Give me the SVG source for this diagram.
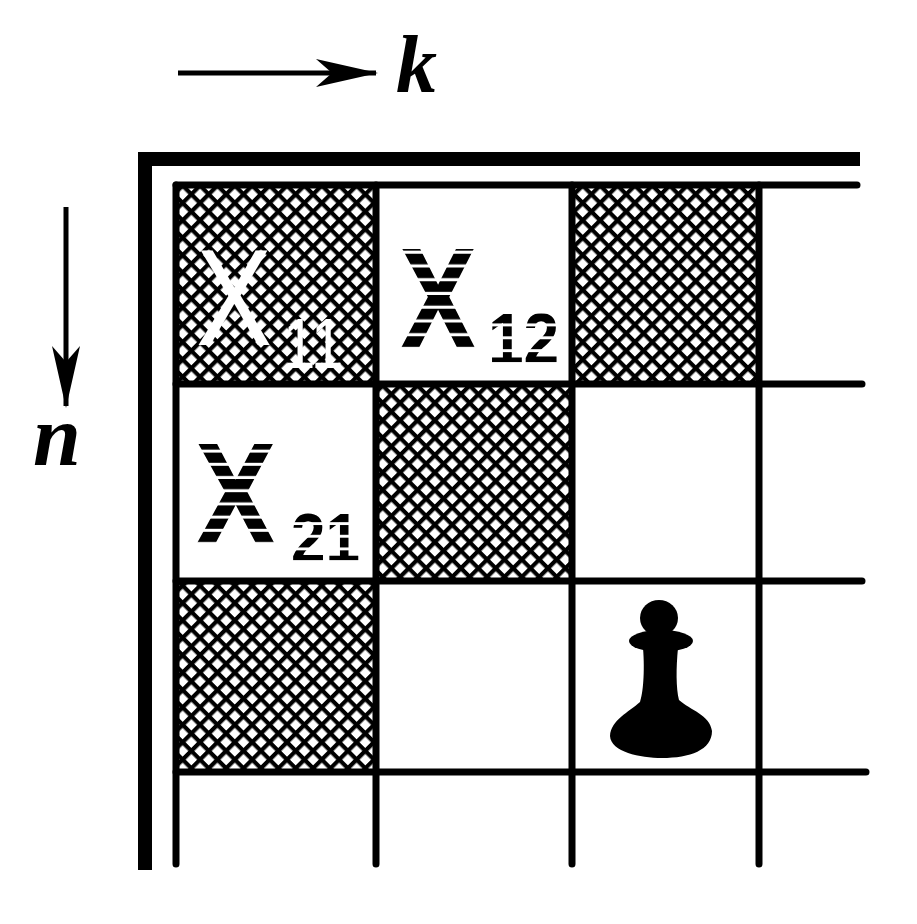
<svg xmlns="http://www.w3.org/2000/svg" width="917" height="924" viewBox="0 0 917 924">
<style>
.grid{stroke:#000;stroke-width:7;stroke-linecap:round;fill:none}
.frame{stroke:#000;stroke-width:14;fill:none}
.hatch{fill:url(#xh)}
.lbl{font-family:"Liberation Sans",Arial,sans-serif;font-weight:bold;fill:url(#st)}
.lblw{font-family:"Liberation Sans",Arial,sans-serif;fill:#fff}
.axis{font-family:"Liberation Serif","Times New Roman",serif;font-style:italic;font-weight:bold;fill:#000}
.arr{stroke:#000;stroke-width:5;fill:none;marker-end:url(#ah)}
</style>
<defs>
<pattern id="xh" patternUnits="userSpaceOnUse" width="12.3" height="12.3" patternTransform="rotate(45)">
<rect width="12.3" height="12.3" fill="#fff"/>
<rect x="0" y="0" width="4.2" height="12.3" fill="#000"/>
<rect x="0" y="0" width="12.3" height="4.2" fill="#000"/>
</pattern>
<pattern id="st" patternUnits="userSpaceOnUse" width="20" height="11">
<rect width="20" height="11" fill="#000"/>
<rect y="8.5" width="20" height="2.5" fill="#fff"/>
</pattern>
<marker id="ah" markerUnits="userSpaceOnUse" viewBox="-62 -15 64 30" markerWidth="64" markerHeight="30" refX="0" refY="0" orient="auto">
<path d="M2,0 L-60,-14 L-44,0 L-60,14 Z" fill="#000"/>
</marker>
</defs>
<rect width="917" height="924" fill="#fff"/>
<g id="cells">
<g id="cell-11"><rect class="hatch" x="176" y="185" width="200" height="199"/>
<text class="lblw" transform="translate(196,345) scale(1,1.2)" font-size="114">X</text>
<text class="lblw" transform="translate(283,368) scale(1,1.2)" font-size="58">11</text></g>
<g id="cell-12">
<text class="lbl" transform="translate(399,350) scale(1,1.25)" font-size="117">X</text>
<text class="lbl" transform="translate(488,365) scale(1,1.17)" font-size="64">12</text></g>
<g id="cell-13"><rect class="hatch" x="572" y="185" width="187" height="199"/></g>
<g id="cell-21">
<text class="lbl" transform="translate(195,545) scale(1,1.2)" font-size="122">X</text>
<text class="lbl" transform="translate(291,563) scale(1,1.15)" font-size="62">21</text></g>
<g id="cell-22"><rect class="hatch" x="376" y="384" width="196" height="197"/></g>
<g id="cell-31"><rect class="hatch" x="176" y="581" width="200" height="191"/></g>
<g id="cell-33">
<ellipse cx="659" cy="618" rx="19" ry="18" fill="#000"/>
<ellipse cx="661" cy="641" rx="32" ry="11" fill="#000"/>
<path d="M643,648 C645,672 643,694 640,702 C629,712 611,720 610,736 C611,752 640,758 662,758 C690,758 712,750 712,731 C710,715 690,710 679,700 C676,688 676,668 678,648 Z" fill="#000"/>
</g>
</g>
<g id="board">
<path class="frame" d="M145,870 L145,159 L860,159"/>
<path class="grid" d="M176,185 L857,185 M176,384 L862,384 M176,581 L862,581 M176,772 L866,772"/>
<path class="grid" d="M176,185 L176,864 M376,185 L376,864 M572,185 L572,864 M759,185 L759,864"/>
</g>
<g id="connectors">
<line class="arr" x1="178" y1="73" x2="376" y2="73"/>
<line class="arr" x1="66" y1="207" x2="66" y2="406"/>
</g>
<g id="axis-labels">
<text class="axis" x="396" y="92" font-size="82">k</text>
<text class="axis" x="33" y="465" font-size="86">n</text>
</g>
</svg>
